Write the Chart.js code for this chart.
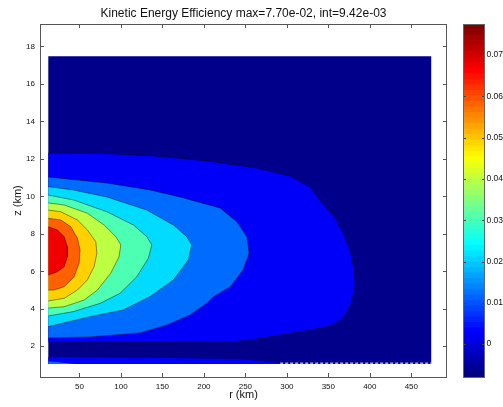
<!DOCTYPE html>
<html>
<head>
<meta charset="utf-8">
<script src="https://cdn.jsdelivr.net/npm/chart.js"></script>
<style>
  html, body { margin: 0; padding: 0; background: #fff; }
  #wrap { position: relative; width: 503px; height: 407px; }
  #plot { position: absolute; left: 0; top: 0; }
  #cbar { position: absolute; left: 455px; top: 0; }
</style>
</head>
<body>
<div id="wrap">
  <canvas id="plot" width="503" height="407"></canvas>
  <canvas id="cbar" width="48" height="407"></canvas>
</div>
<script>
// kinetic energy efficiency, filled contours in the r-z plane (r in km, z in km)
const titleText = 'Kinetic Energy Efficiency max=7.70e-02, int=9.42e-03';

const rAxis = [2.5, 493];
const zAxis = [0.36, 19.2];
const rTicks = [50, 100, 150, 200, 250, 300, 350, 400, 450];
const zTicks = [2, 4, 6, 8, 10, 12, 14, 16, 18];

// extent of the gridded field
const domainR = [12.5, 474];
const domainZ = [1.06, 17.48];

// colour of each band, lowest (below first level) to highest
const bandColors = ['#00008a', '#0000fa', '#006bff', '#00dbff', '#4dffb2',
                    '#bdff42', '#ffd100', '#ff6100', '#f00000'];

// outer boundary of each filled level, as [r, z]; closed along r = 12.5
const contourBlue = [[12.5, 12.31], [74.9, 12.29], [135.2, 12.18], [203.9, 11.89], [264.1, 11.51],
  [303.9, 11.09], [328, 10.5], [342.4, 9.65], [358.1, 8.85], [367.7, 8.05], [376.1, 7.14],
  [380.9, 6.07], [382.2, 5.27], [378.6, 4.47], [372.6, 3.83], [364.1, 3.4], [352.1, 3.08],
  [328, 2.87], [291.8, 2.6], [255.7, 2.34], [231.6, 2.23], [135.2, 2.21], [12.5, 2.25]];
const contourBlueFloor = [[12.5, 1.06], [12.5, 1.43], [135, 1.39], [244, 1.31], [292, 1.11], [303, 1.06]];
const contourAzure = [[12.5, 11.03], [83.4, 10.71], [135.2, 10.34], [171.3, 9.97], [219.5, 9.38],
  [240, 8.63], [252, 7.83], [254.5, 6.98], [247.2, 6.07], [231.6, 5.16], [211.1, 4.63],
  [203.9, 4.31], [183.4, 3.67], [155.7, 3.14], [123.1, 2.71], [62.9, 2.5], [12.5, 2.44]];
const contourAzureFloor = [[12.5, 1.06], [12.5, 1.2], [45, 1.06]];
const contourCyan = [[12.5, 10.52], [42.8, 10.34], [83, 9.97], [131.2, 9.27], [163.3, 8.47],
  [179.4, 7.85], [185.4, 7.41], [181.3, 6.61], [163.3, 5.54], [135.2, 4.65], [103, 3.94],
  [62.9, 3.58], [12.5, 3.05]];
const contourAqua = [[12.5, 10.07], [42.8, 9.81], [83, 9.18], [115.1, 8.47], [131.2, 7.85],
  [137.2, 7.41], [133.1, 6.7], [119.2, 5.71], [99, 4.83], [74.9, 4.29], [42.8, 3.85], [12.5, 3.62]];
const contourLime = [[12.5, 9.65], [31.6, 9.54], [59.6, 9.1], [79.8, 8.47], [93.9, 7.85],
  [99.9, 7.41], [97.8, 6.78], [87.8, 5.9], [71.7, 5], [55.7, 4.47], [31.6, 4.11], [12.5, 4.04]];
const contourYellow = [[12.5, 9.27], [27.6, 9.18], [47.6, 8.74], [59.6, 8.21], [69.8, 7.58],
  [71, 6.96], [67.7, 6.25], [59.6, 5.54], [47.6, 5], [31.6, 4.56], [12.5, 4.42]];
const contourOrange = [[12.5, 8.83], [27.6, 8.74], [39.6, 8.38], [47.6, 7.76], [50.8, 7.14],
  [49.6, 6.43], [43.6, 5.71], [31.6, 5.18], [19.5, 5], [12.5, 5]];
const contourRed = [[12.5, 8.38], [23.5, 8.21], [31.6, 7.85], [35.5, 7.31], [35.5, 6.78],
  [31.6, 6.25], [23.5, 5.98], [12.5, 5.8]];

// negative-level contour along the floor
const zeroLine = [[292, 1.1], [474, 1.1]];

// colour bar
const cbarRange = [-0.0082, 0.0775];
const cbarTicks = [0, 0.01, 0.02, 0.03, 0.04, 0.05, 0.06, 0.07];
const cbarSteps = 64;

Chart.defaults.font.family = '"Liberation Sans", Arial, Helvetica, sans-serif';
Chart.defaults.color = '#111';

const toPts = arr => arr.map(([r, z]) => ({ x: r, y: z }));

function band(points, level, stroke) {
  return {
    data: toPts(points),
    showLine: true,
    fill: 'shape',
    backgroundColor: bandColors[level],
    borderColor: stroke ? 'rgba(0,0,0,0.7)' : 'rgba(0,0,0,0)',
    borderWidth: 0.6,
    pointRadius: 0,
    tension: 0,
    order: 20 - level
  };
}

const fieldBox = [[domainR[0], domainZ[0]], [domainR[1], domainZ[0]],
                  [domainR[1], domainZ[1]], [domainR[0], domainZ[1]]];

const datasets = [
  band(fieldBox, 0, false),
  band(contourBlue, 1, true),
  band(contourBlueFloor, 1, false),
  band(contourAzure, 2, true),
  band(contourAzureFloor, 2, false),
  band(contourCyan, 3, true),
  band(contourAqua, 4, true),
  band(contourLime, 5, true),
  band(contourYellow, 6, true),
  band(contourOrange, 7, true),
  band(contourRed, 8, true),
  {
    data: toPts(zeroLine),
    showLine: true,
    fill: false,
    borderColor: '#ffffff',
    borderWidth: 1,
    borderDash: [3, 2],
    pointRadius: 0,
    order: 0
  }
];

// box round the axes with inward tick marks on all four sides
const boxTicks = {
  id: 'boxTicks',
  afterDatasetsDraw(chart) {
    const { ctx, chartArea: a, scales: { x, y } } = chart;
    ctx.save();
    ctx.strokeStyle = '#555';
    ctx.lineWidth = 1;
    ctx.beginPath();
    x.ticks.forEach(t => {
      const px = Math.round(x.getPixelForValue(t.value)) + 0.5;
      ctx.moveTo(px, a.bottom); ctx.lineTo(px, a.bottom - 4);
      ctx.moveTo(px, a.top); ctx.lineTo(px, a.top + 4);
    });
    y.ticks.forEach(t => {
      const py = Math.round(y.getPixelForValue(t.value)) + 0.5;
      ctx.moveTo(a.left, py); ctx.lineTo(a.left + 4, py);
      ctx.moveTo(a.right, py); ctx.lineTo(a.right - 4, py);
    });
    ctx.stroke();
    ctx.strokeRect(a.left + 0.5, a.top + 0.5, a.right - a.left - 1, a.bottom - a.top);
    ctx.restore();
  }
};

const noGrid = { display: false, drawTicks: false, tickLength: 0 };

new Chart(document.getElementById('plot'), {
  type: 'scatter',
  data: { datasets },
  plugins: [boxTicks],
  options: {
    responsive: false,
    animation: false,
    events: [],
    layout: { padding: { left: 0, right: 56, top: 0, bottom: 0 } },
    plugins: {
      legend: { display: false },
      tooltip: { enabled: false },
      title: {
        display: true,
        text: titleText,
        fullSize: false,
        font: { size: 12, weight: 'normal' },
        color: '#111',
        padding: { top: 6, bottom: 3.6 }
      }
    },
    scales: {
      x: {
        type: 'linear',
        min: rAxis[0],
        max: rAxis[1],
        grid: noGrid,
        border: { display: false },
        ticks: { font: { size: 8 }, padding: 5, maxRotation: 0, autoSkip: false },
        afterBuildTicks: s => { s.ticks = rTicks.map(v => ({ value: v })); },
        afterFit: s => { s.height = 30; },
        title: { display: true, text: 'r (km)', font: { size: 11 }, padding: { top: 0, bottom: 5.5 } }
      },
      y: {
        type: 'linear',
        min: zAxis[0],
        max: zAxis[1],
        grid: noGrid,
        border: { display: false },
        ticks: { font: { size: 8 }, padding: 5, autoSkip: false },
        afterBuildTicks: s => { s.ticks = zTicks.map(v => ({ value: v })); },
        afterFit: s => { s.width = 40; },
        title: { display: true, text: 'z (km)', font: { size: 11 }, padding: { top: 11, bottom: 0 } }
      }
    }
  }
});

// colour bar: jet colormap split into equal floating bars
function jet(t) {
  const c = v => Math.round(255 * Math.max(0, Math.min(1, v)));
  return `rgb(${c(1.5 - Math.abs(4 * t - 3))},${c(1.5 - Math.abs(4 * t - 2))},${c(1.5 - Math.abs(4 * t - 1))})`;
}

const cbarStep = (cbarRange[1] - cbarRange[0]) / cbarSteps;
const cbarSets = [];
for (let i = 0; i < cbarSteps; i++) {
  const lo = cbarRange[0] + i * cbarStep;
  cbarSets.push({
    data: [[lo, lo + cbarStep * 1.02]],
    backgroundColor: jet(i / (cbarSteps - 1)),
    borderWidth: 0,
    grouped: false,
    barPercentage: 1,
    categoryPercentage: 1
  });
}

const cbarFrame = {
  id: 'cbarFrame',
  afterDatasetsDraw(chart) {
    const { ctx, chartArea: a, scales: { y } } = chart;
    ctx.save();
    ctx.strokeStyle = '#444';
    ctx.lineWidth = 1;
    ctx.beginPath();
    y.ticks.forEach(t => {
      const py = Math.round(y.getPixelForValue(t.value)) + 0.5;
      ctx.moveTo(a.left, py); ctx.lineTo(a.left + 3, py);
      ctx.moveTo(a.right, py); ctx.lineTo(a.right - 3, py);
    });
    ctx.stroke();
    ctx.strokeStyle = '#666';
    ctx.strokeRect(a.left + 0.5, a.top + 0.5, a.right - a.left - 1, a.bottom - a.top - 1);
    ctx.restore();
  }
};

new Chart(document.getElementById('cbar'), {
  type: 'bar',
  data: { labels: [''], datasets: cbarSets },
  plugins: [cbarFrame],
  options: {
    responsive: false,
    animation: false,
    events: [],
    layout: { padding: { left: 8, right: 0, top: 24, bottom: 29 } },
    plugins: { legend: { display: false }, tooltip: { enabled: false } },
    scales: {
      x: { display: false },
      y: {
        position: 'right',
        min: cbarRange[0],
        max: cbarRange[1],
        grid: noGrid,
        border: { display: false },
        ticks: {
          font: { size: 8.5 },
          padding: 1.5,
          autoSkip: false,
          callback: v => (v === 0 ? '0' : v.toFixed(2))
        },
        afterBuildTicks: s => { s.ticks = cbarTicks.map(v => ({ value: v })); },
        afterFit: s => { s.width = 18; }
      }
    }
  }
});
</script>
</body>
</html>
